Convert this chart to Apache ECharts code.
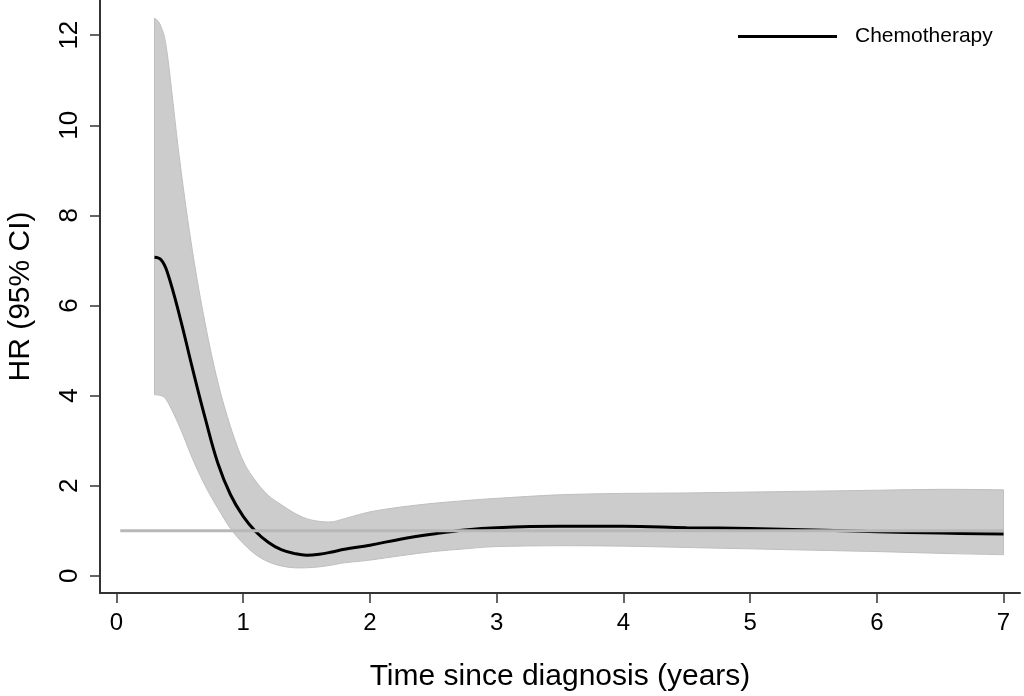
<!DOCTYPE html>
<html>
<head>
<meta charset="utf-8">
<style>
  html, body { margin: 0; padding: 0; background: #fff; }
  #chart { width: 1024px; height: 696px; }
</style>
<script src="https://cdn.jsdelivr.net/npm/echarts@6/dist/echarts.min.js"></script>
</head>
<body>
<div id="chart"></div>
<script>
// time since diagnosis (years)
const times = [0.3, 0.35, 0.4, 0.5, 0.6, 0.7, 0.8, 0.9, 1.0, 1.1, 1.2, 1.3, 1.4, 1.5, 1.6, 1.7, 1.8, 2.0, 2.25, 2.5, 2.75, 3.0, 3.5, 4.0, 4.5, 5.0, 5.5, 6.0, 6.5, 7.0];
// hazard ratio estimate
const hr = [7.07, 7.02, 6.75, 5.75, 4.6, 3.5, 2.5, 1.8, 1.32, 0.98, 0.74, 0.58, 0.5, 0.46, 0.48, 0.53, 0.59, 0.68, 0.82, 0.93, 1.02, 1.07, 1.1, 1.1, 1.07, 1.05, 1.02, 0.98, 0.95, 0.93];
// 95% CI
const lower = [4.02, 4.0, 3.88, 3.3, 2.6, 2.0, 1.5, 1.05, 0.72, 0.47, 0.31, 0.22, 0.18, 0.18, 0.2, 0.24, 0.29, 0.35, 0.45, 0.54, 0.6, 0.65, 0.67, 0.66, 0.63, 0.6, 0.57, 0.54, 0.5, 0.47];
const upper = [12.38, 12.2, 11.6, 9.2, 7.2, 5.6, 4.3, 3.31, 2.55, 2.1, 1.78, 1.58, 1.4, 1.27, 1.21, 1.2, 1.27, 1.42, 1.53, 1.61, 1.67, 1.72, 1.8, 1.83, 1.84, 1.86, 1.88, 1.9, 1.92, 1.91];
// reference line HR = 1
const refX = [0.03, 7];
const refY = [1, 1];
const xTicks = [0, 1, 2, 3, 4, 5, 6, 7];
const yTicks = [0, 2, 4, 6, 8, 10, 12];

const FONT = '"Liberation Sans", Arial, sans-serif';

const chart = echarts.init(document.getElementById('chart'));

const hrData = times.map((t, i) => [t, hr[i]]);
const refData = refX.map((t, i) => [t, refY[i]]);

// catmull-rom through pixel points -> bezier path segments
function curveThrough(pts, start) {
    let d = (start ? 'M' : 'L') + pts[0][0] + ',' + pts[0][1];
    for (let i = 0; i < pts.length - 1; i++) {
        const p0 = pts[i - 1] || pts[i];
        const p1 = pts[i];
        const p2 = pts[i + 1];
        const p3 = pts[i + 2] || p2;
        const c1x = p1[0] + (p2[0] - p0[0]) / 6, c1y = p1[1] + (p2[1] - p0[1]) / 6;
        const c2x = p2[0] - (p3[0] - p1[0]) / 6, c2y = p2[1] - (p3[1] - p1[1]) / 6;
        d += 'C' + c1x + ',' + c1y + ',' + c2x + ',' + c2y + ',' + p2[0] + ',' + p2[1];
    }
    return d;
}

function renderBand(params, api) {
    const up = times.map((t, i) => api.coord([t, upper[i]]));
    const lo = times.map((t, i) => api.coord([t, lower[i]])).reverse();
    const d = curveThrough(up, true) + curveThrough(lo, false) + 'Z';
    return {
        type: 'path',
        shape: { pathData: d },
        style: { fill: '#cccccc', stroke: '#bfbfbf', lineWidth: 1 },
        silent: true
    };
}

chart.setOption({
    backgroundColor: '#fff',
    animation: false,
    textStyle: { fontFamily: FONT },
    grid: { left: 100, right: 4, top: 0, bottom: 103, outerBoundsMode: 'none' },
    legend: {
        data: ['Chemotherapy'],
        left: 733,
        top: 21,
        itemWidth: 99,
        itemHeight: 3,
        icon: 'rect',
        textStyle: { fontSize: 21, color: '#000', fontFamily: FONT, padding: [0, 0, 0, 13] }
    },
    xAxis: {
        type: 'value',
        min: -0.13,
        max: 7.13,
        name: 'Time since diagnosis (years)',
        nameLocation: 'middle',
        nameGap: 69,
        nameTextStyle: { fontSize: 30, color: '#000', fontFamily: FONT },
        axisLine: { onZero: false, lineStyle: { color: '#333', width: 2 } },
        axisTick: { customValues: xTicks, length: 10, lineStyle: { color: '#333', width: 1.5 } },
        axisLabel: { customValues: xTicks, fontSize: 24, color: '#000', margin: 18 },
        splitLine: { show: false }
    },
    yAxis: {
        type: 'value',
        min: -0.38,
        max: 12.78,
        name: 'HR (95% CI)',
        nameLocation: 'middle',
        nameGap: 64,
        nameTextStyle: { fontSize: 30, color: '#000', fontFamily: FONT },
        axisLine: { show: true, onZero: false, lineStyle: { color: '#333', width: 2 } },
        axisTick: { show: true, customValues: yTicks, length: 10, lineStyle: { color: '#333', width: 1.5 } },
        axisLabel: { customValues: yTicks, fontSize: 26, color: '#000', rotate: 90, margin: 17 },
        splitLine: { show: false }
    },
    series: [
        {
            name: 'band',
            type: 'custom',
            renderItem: renderBand,
            data: [[times[0], upper[0]]],
            silent: true,
            z: 1
        },
        {
            name: 'Chemotherapy',
            type: 'line',
            data: hrData,
            smooth: 0.4,
            symbol: 'none',
            color: '#000',
            lineStyle: { color: '#000', width: 3 },
            z: 2
        },
        {
            name: 'ref',
            type: 'line',
            data: refData,
            symbol: 'none',
            lineStyle: { color: '#b8b8b8', width: 3 },
            silent: true,
            z: 3
        }
    ]
});

window.addEventListener('resize', () => {
    chart.resize();
});
</script>
</body>
</html>
